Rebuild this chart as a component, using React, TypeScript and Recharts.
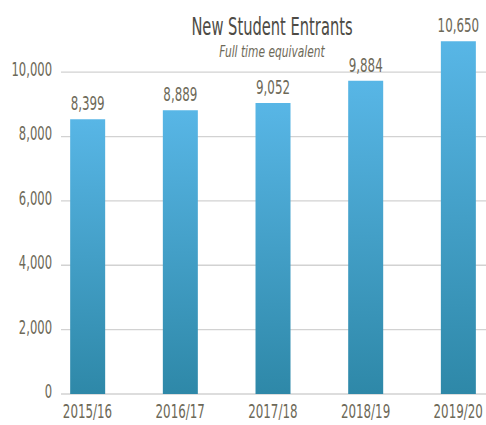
import React from 'react';
import { BarChart, Bar, XAxis, YAxis, CartesianGrid, LabelList } from 'recharts';

const years = ['2015/16', '2016/17', '2017/18', '2018/19', '2019/20'];
const entrants = [8540, 8820, 9040, 9730, 10960];
const entrantLabels = ['8,399', '8,889', '9,052', '9,884', '10,650'];
const yTicks = [0, 2000, 4000, 6000, 8000, 10000];

const data = years.map((y, i) => ({ idx: i, year: y, value: entrants[i], label: entrantLabels[i] }));

const font = '"DejaVu Sans Condensed", "DejaVu Sans", sans-serif';
const textColor = '#6d6958';
const squeeze = 0.66;

const XTick = ({ x, y, payload }: any) => (
    <g transform={`translate(${x},${y}) scale(${squeeze},1)`}>
        <text textAnchor="middle" dy="0.71em" fill={textColor} fontSize={20} fontFamily={font}>
            {years[payload.value]}
        </text>
    </g>
);

const YTick = ({ x, y, payload }: any) => (
    <g transform={`translate(${x},${y - 3}) scale(${squeeze},1)`}>
        <text textAnchor="end" dy="0.355em" fill={textColor} fontSize={19.5} fontFamily={font}>
            {payload.value.toLocaleString('en-US')}
        </text>
    </g>
);

const BarLabel = ({ x, y, width, value }: any) => (
    <g transform={`translate(${x + width / 2},${y - 9}) scale(${squeeze},1)`}>
        <text textAnchor="middle" fill={textColor} fontSize={20} fontFamily={font}>
            {value}
        </text>
    </g>
);

export default function App() {
    return (
        <div style={{ position: 'absolute', left: 0, top: 0, width: 486, height: 425, background: '#fff', fontFamily: font }}>
            <BarChart width={486} height={425} data={data} margin={{ top: 40, right: 0, bottom: 0, left: 0 }}>
                <defs>
                    <linearGradient id="barFill" x1="0" y1="0" x2="0" y2="1">
                        <stop offset="0%" stopColor="#58b6e6" />
                        <stop offset="100%" stopColor="#2e88a8" />
                    </linearGradient>
                </defs>
                <CartesianGrid vertical={false} horizontalValues={yTicks} stroke="#d2d2d2" strokeWidth={1.3} />
                <XAxis
                    dataKey="idx"
                    type="number"
                    domain={[-0.286, 4.3]}
                    ticks={[0, 1, 2, 3, 4]}
                    axisLine={false}
                    tickLine={false}
                    tickSize={0}
                    tickMargin={10}
                    height={31}
                    tick={<XTick />}
                />
                <YAxis
                    domain={[0, 11000]}
                    ticks={yTicks}
                    axisLine={false}
                    tickLine={false}
                    tickSize={0}
                    tickMargin={9}
                    width={61}
                    tick={<YTick />}
                />
                <Bar dataKey="value" fill="url(#barFill)" barSize={35} isAnimationActive={false}>
                    <LabelList dataKey="label" content={<BarLabel />} />
                </Bar>
            </BarChart>
            <div style={{ position: 'absolute', left: 272, top: 15, lineHeight: 1, whiteSpace: 'nowrap', transform: 'translateX(-50%) scaleX(0.68)', fontSize: 24, color: '#4d4b45' }}>
                New Student Entrants
            </div>
            <div style={{ position: 'absolute', left: 272, top: 45, lineHeight: 1, whiteSpace: 'nowrap', transform: 'translateX(-50%) scaleX(0.79)', fontSize: 15, fontStyle: 'italic', color: textColor }}>
                Full time equivalent
            </div>
        </div>
    );
}
